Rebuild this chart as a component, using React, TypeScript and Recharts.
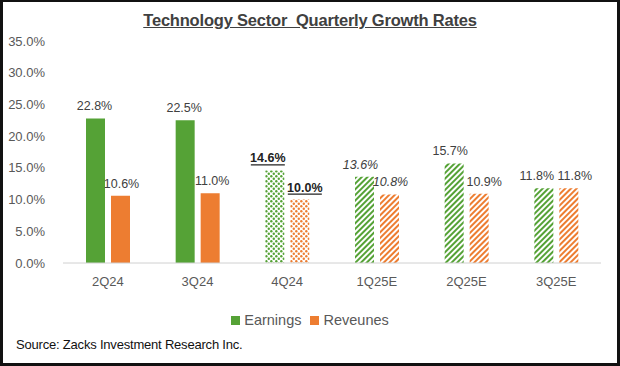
import React from 'react';
import { BarChart, Bar, XAxis, YAxis, Cell, LabelList } from 'recharts';

const categories = ['2Q24', '3Q24', '4Q24', '1Q25E', '2Q25E', '3Q25E'];
const earnings = [22.8, 22.5, 14.6, 13.6, 15.7, 11.8];
const revenues = [10.6, 11.0, 10.0, 10.8, 10.9, 11.8];
const yTicks = [0, 5, 10, 15, 20, 25, 30, 35];
const seriesNames = ['Earnings', 'Reveunes'];

// visual treatment per category (solid / dots / stripes) and label style
const fillKind = ['solid', 'solid', 'dots', 'stripes', 'stripes', 'stripes'];
const labelKind = ['normal', 'normal', 'bold', 'italic', 'normal', 'normal'];
// small horizontal nudges of value labels (px)
const nudgeE = [-1, -1, -7, -4, -4, -7];
const nudgeR = [1, 2, 5, 1, 5, 6];

const data = categories.map((c, i) => ({ cat: c, earnings: earnings[i], revenues: revenues[i] }));

const GREEN = '#55A236';
const ORANGE = '#ED7D31';
const FONT = 'Liberation Sans, Arial, sans-serif';

const fillFor = (series: 'e' | 'r', i: number) => {
  const k = fillKind[i];
  if (k === 'solid') return series === 'e' ? GREEN : ORANGE;
  if (k === 'dots') return series === 'e' ? 'url(#dotsG)' : 'url(#dotsO)';
  return series === 'e' ? 'url(#stripeG)' : 'url(#stripeO)';
};

const makeLabel = (nudge: number[]) => (props: any) => {
  const { x, y, width, value, index } = props;
  const kind = labelKind[index];
  const txt = value.toFixed(1) + '%';
  const cx = x + width / 2 + nudge[index];
  const ty = y - 8;
  return (
    <g>
      <text
        x={cx}
        y={ty}
        textAnchor="middle"
        fontFamily={FONT}
        fontSize={12.5}
        fill={kind === 'bold' ? '#222' : '#404040'}
        fontWeight={kind === 'bold' ? 700 : 400}
        fontStyle={kind === 'italic' ? 'italic' : 'normal'}
      >
        {txt}
      </text>
      {kind === 'bold' && (
        <line x1={cx - 17} x2={cx + 17} y1={ty + 2.5} y2={ty + 2.5} stroke="#222" strokeWidth={1.3} />
      )}
    </g>
  );
};

export default function App() {
  return (
    <div style={{ position: 'absolute', left: 0, top: 0, width: 620, height: 366, background: '#fff', fontFamily: FONT }}>
      <div style={{ position: 'absolute', left: 0, top: 0, width: 620, height: 366, boxSizing: 'border-box', border: '3px solid #111', borderTopWidth: 2, zIndex: 2, pointerEvents: 'none' }} />
      <div style={{ position: 'absolute', left: 0, top: 11, width: 620, textAlign: 'center', fontSize: 16.5, fontWeight: 700, color: '#404040', textDecoration: 'underline', letterSpacing: -0.2 }}>
        Technology Sector&nbsp; Quarterly Growth Rates
      </div>
      <div style={{ position: 'absolute', left: 0, top: 312, width: 620, display: 'flex', justifyContent: 'center', alignItems: 'center', fontSize: 14.5, color: '#595959', fontFamily: 'Liberation Sans Narrow, Arial Narrow, sans-serif' }}>
        <span style={{ display: 'inline-block', width: 9, height: 9, background: GREEN, marginRight: 4 }} />
        <span style={{ marginRight: 9 }}>{seriesNames[0]}</span>
        <span style={{ display: 'inline-block', width: 9, height: 9, background: ORANGE, marginRight: 4 }} />
        <span>{seriesNames[1]}</span>
      </div>
      <div style={{ position: 'absolute', left: 16, top: 337, fontSize: 13, color: '#111', letterSpacing: -0.2 }}>
        Source: Zacks Investment Research Inc.
      </div>
      <BarChart width={620} height={366} data={data} margin={{ top: 41, right: 19, bottom: 73, left: 0 }} barSize={19} barGap={6}>
        <defs>
          <pattern id="stripeG" patternUnits="userSpaceOnUse" width="4" height="4" patternTransform="rotate(45)">
            <rect width="4" height="4" fill="#fff" />
            <rect width="2" height="4" fill={GREEN} />
          </pattern>
          <pattern id="stripeO" patternUnits="userSpaceOnUse" width="4" height="4" patternTransform="rotate(45)">
            <rect width="4" height="4" fill="#fff" />
            <rect width="2" height="4" fill={ORANGE} />
          </pattern>
          <pattern id="dotsG" patternUnits="userSpaceOnUse" width="5" height="5">
            <rect width="5" height="5" fill="#fff" />
            <circle cx="1.3" cy="1.3" r="1.2" fill={GREEN} />
            <circle cx="3.8" cy="3.8" r="1.2" fill={GREEN} />
          </pattern>
          <pattern id="dotsO" patternUnits="userSpaceOnUse" width="5" height="5">
            <rect width="5" height="5" fill="#fff" />
            <circle cx="1.3" cy="1.3" r="1.2" fill={ORANGE} />
            <circle cx="3.8" cy="3.8" r="1.2" fill={ORANGE} />
          </pattern>
        </defs>
        <XAxis
          dataKey="cat"
          axisLine={{ stroke: '#d0d0d0' }}
          tickLine={false}
          tickMargin={8}
          tick={{ fill: '#595959', fontSize: 13, fontFamily: FONT }}
        />
        <YAxis
          width={63}
          domain={[0, 35]}
          ticks={yTicks}
          interval={0}
          axisLine={false}
          tickLine={false}
          tickMargin={12}
          tickFormatter={(v: number) => v.toFixed(1) + '%'}
          tick={{ fill: '#595959', fontSize: 13, fontFamily: FONT }}
        />
        <Bar dataKey="earnings" name={seriesNames[0]} fill={GREEN} isAnimationActive={false}>
          {data.map((d, i) => (
            <Cell key={i} fill={fillFor('e', i)} />
          ))}
          <LabelList dataKey="earnings" content={makeLabel(nudgeE)} />
        </Bar>
        <Bar dataKey="revenues" name={seriesNames[1]} fill={ORANGE} isAnimationActive={false}>
          {data.map((d, i) => (
            <Cell key={i} fill={fillFor('r', i)} />
          ))}
          <LabelList dataKey="revenues" content={makeLabel(nudgeR)} />
        </Bar>
      </BarChart>
    </div>
  );
}
